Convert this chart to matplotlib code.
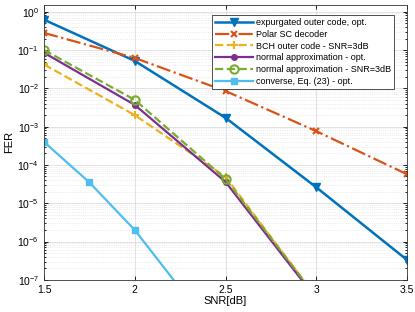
import numpy as np
import matplotlib.pyplot as plt

# curves
snr = [1.5, 2.0, 2.5, 3.0, 3.5]
fer_expurg = [0.62, 0.052, 1.7e-3, 2.6e-5, 3.3e-7]
fer_polar = [0.28, 0.062, 8.5e-3, 7.6e-4, 5.7e-5]

snr_na = [1.5, 2.0, 2.5, 3.0]
fer_bch = [0.042, 2.0e-3, 4.9e-5, 3.5e-8]
fer_na_opt = [0.085, 3.7e-3, 3.6e-5, 3.2e-8]
fer_na_3db = [0.10, 5.0e-3, 4.3e-5, 3.6e-8]

snr_conv = [1.5, 1.75, 2.0, 2.25]
fer_conv = [4.0e-4, 3.5e-5, 2.0e-6, 6.0e-8]

labels = ["expurgated outer code, opt.", "Polar SC decoder",
          "BCH outer code - SNR=3dB", "normal approximation - opt.",
          "normal approximation - SNR=3dB", "converse, Eq. (23) - opt."]
xticks = [1.5, 2, 2.5, 3, 3.5]
yticks = [1e-7, 1e-6, 1e-5, 1e-4, 1e-3, 1e-2, 1e-1, 1e0]

plt.rcParams["font.family"] = ["Liberation Sans", "DejaVu Sans"]
plt.rcParams["mathtext.fontset"] = "custom"
plt.rcParams["mathtext.rm"] = "Liberation Sans"
plt.rcParams["mathtext.it"] = "Liberation Sans"
fig = plt.figure(figsize=(4.15, 3.12), dpi=100)
ax = fig.add_axes([0.106, 0.103, 0.875, 0.881])

ax.semilogy(snr, fer_expurg, "-v", color="#0072BD", lw=1.8, ms=6, label=labels[0])
ax.semilogy(snr, fer_polar, "-.x", color="#D95319", lw=1.6, ms=4, mew=1.5, label=labels[1])
ax.semilogy(snr_na, fer_bch, "--+", color="#EDB120", lw=1.6, ms=6, mew=1.5, label=labels[2])
ax.semilogy(snr_na, fer_na_opt, "-o", color="#7E2F8E", lw=1.6, ms=4, label=labels[3])
ax.semilogy(snr_na, fer_na_3db, "--o", color="#77AC30", lw=1.6, ms=6, mfc="none", mew=1.5, label=labels[4])
ax.semilogy(snr_conv, fer_conv, "-s", color="#4DBEEE", lw=1.6, ms=4.5, label=labels[5])

ax.set_xlim(1.5, 3.5)
ax.set_ylim(1e-7, 1.5)
ax.set_xticks(xticks)
ax.set_xticklabels(["1.5", "2", "2.5", "3", "3.5"])
ax.set_yticks(yticks)
ax.set_xlabel("SNR[dB]", fontsize=8, labelpad=1)
ax.set_ylabel("FER", fontsize=8, labelpad=2)
ax.tick_params(which="both", direction="in", labelsize=7.5, top=True, right=True, width=0.6)
ax.tick_params(which="major", length=3)
ax.tick_params(which="minor", length=1.5)
ax.grid(True, which="major", color="#dddddd", lw=0.6)
ax.grid(True, which="minor", color="#dddddd", lw=0.5, ls=":")
for s in ax.spines.values():
    s.set_linewidth(0.6)
    s.set_color("#333333")

leg = ax.legend(loc="upper right", fontsize=6.5, handlelength=4.2, borderpad=0.35,
                labelspacing=0.3, handletextpad=0.3, fancybox=False,
                bbox_to_anchor=(0.977, 0.98), framealpha=1)
leg.get_frame().set_edgecolor("#333333")
leg.get_frame().set_linewidth(0.6)

fig.savefig("out.png", dpi=100)
